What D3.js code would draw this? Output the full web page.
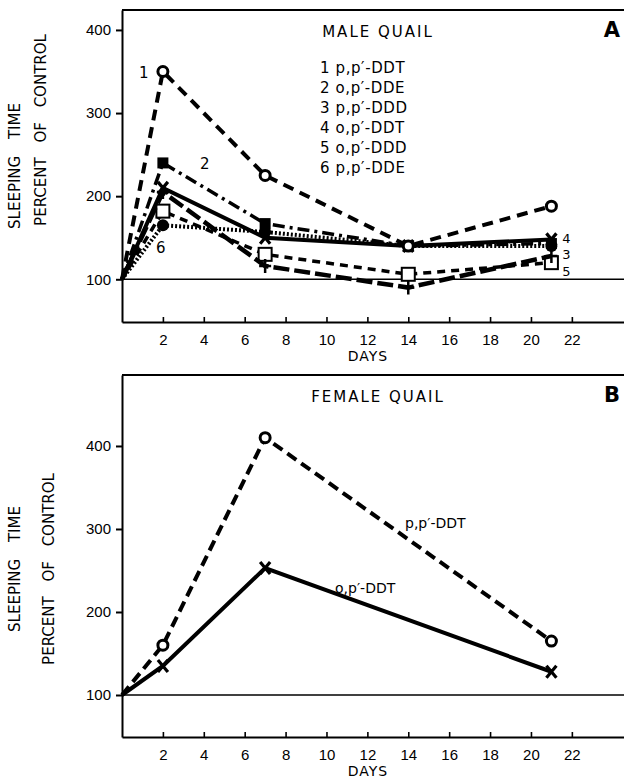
<!DOCTYPE html>
<html>
<head>
<meta charset="utf-8">
<script src="https://cdn.jsdelivr.net/npm/d3@7"></script>
<style>
  body { margin: 0; background: #fff; }
  svg { display: block; font-family: "DejaVu Sans", sans-serif; }
</style>
</head>
<body>
<div id="chart"></div>
<script>
// day values and series
const daysA = [0, 2, 7, 14, 21];
const ppDDT_A = [100, 350, 225, 140, 188];
const opDDE_A = [100, 240, 167, 140, 143];
const ppDDD_A = [100, 205, 116, 90, 128];
const opDDT_A = [100, 210, 150, 140, 148];
const opDDD_A = [100, 182, 130, 106, 120];
const ppDDE_A = [100, 165, 157, 140, 140];

const daysB = [0, 2, 7, 21];
const ppDDT_B = [100, 160, 410, 165];
const opDDT_B = [100, 135, 253, 128];

const dayTicks = [2, 4, 6, 8, 10, 12, 14, 16, 18, 20, 22];
const pctTicks = [100, 200, 300, 400];
const legendA = ["1 p,p′-DDT", "2 o,p′-DDE", "3 p,p′-DDD", "4 o,p′-DDT", "5 o,p′-DDD", "6 p,p′-DDE"];

const width = 624, height = 780;
const svg = d3.select("#chart").append("svg")
  .attr("width", width)
  .attr("height", height);

const x = d3.scaleLinear().domain([0, 24.55]).range([122, 624]);

// draws frame, axes and titles of one panel
const drawPanel = (y, top, bottom, title, letter, percentX, sleepY, percentY) => {
  const g = svg.append("g");
  // top border
  g.append("line")
    .attr("x1", x(0)).attr("x2", width)
    .attr("y1", top).attr("y2", top)
    .attr("stroke", "#000").attr("stroke-width", 2);
  // control line at 100
  g.append("line")
    .attr("x1", x(0)).attr("x2", width)
    .attr("y1", y(100)).attr("y2", y(100))
    .attr("stroke", "#000").attr("stroke-width", 1.6);

  const yAxis = g.append("g")
    .attr("transform", `translate(${x(0)},0)`)
    .call(d3.axisLeft(y).tickValues(pctTicks).tickSize(6).tickSizeOuter(0).tickPadding(5));
  yAxis.select(".domain").attr("stroke-width", 2);
  yAxis.selectAll(".tick line").attr("stroke-width", 2);
  yAxis.selectAll("text").style("font-size", "15px").attr("fill", "#000");

  const xAxis = g.append("g")
    .attr("transform", `translate(0,${bottom})`)
    .call(d3.axisBottom(x).tickValues(dayTicks).tickSize(-5).tickSizeOuter(0).tickPadding(12));
  xAxis.select(".domain").attr("stroke-width", 2);
  xAxis.selectAll(".tick line").attr("stroke-width", 1.6);
  xAxis.selectAll("text").style("font-size", "15px").attr("fill", "#000");

  g.append("text")
    .attr("x", 368).attr("y", bottom + 39)
    .attr("text-anchor", "middle")
    .style("font-size", "14px").style("letter-spacing", "1px")
    .text("DAYS");

  g.append("text")
    .attr("x", 378).attr("y", top + 27)
    .attr("text-anchor", "middle")
    .style("font-size", "15px").style("letter-spacing", "2px")
    .text(title);
  g.append("text")
    .attr("x", 612).attr("y", top + 27)
    .attr("text-anchor", "middle")
    .style("font-size", "21px").style("font-weight", "bold")
    .text(letter);

  g.append("text")
    .attr("transform", `translate(20,${sleepY}) rotate(-90)`)
    .attr("text-anchor", "middle")
    .style("font-size", "15px").attr("word-spacing", "12px")
    .text("SLEEPING TIME");
  g.append("text")
    .attr("transform", `translate(${percentX},${percentY}) rotate(-90)`)
    .attr("text-anchor", "middle")
    .style("font-size", "15px").attr("word-spacing", "10px")
    .text("PERCENT OF CONTROL");
  return g;
};

const drawSeries = (g, y, days, values, lineStyle, marker) => {
  const pts = days.map((d, i) => ({ day: d, value: values[i] }));
  const line = d3.line().x((d) => x(d.day)).y((d) => y(d.value));
  g.append("path")
    .datum(pts)
    .attr("d", line)
    .attr("fill", "none")
    .attr("stroke", "#000")
    .attr("stroke-width", lineStyle.w)
    .attr("stroke-dasharray", lineStyle.dash || null);

  const m = g.selectAll(null)
    .data(pts.slice(1))
    .join("g")
    .attr("transform", (d) => `translate(${x(d.day)},${y(d.value)})`);
  if (marker === "circleOpen") {
    m.append("circle").attr("r", 5).attr("fill", "#fff")
      .attr("stroke", "#000").attr("stroke-width", 3);
  } else if (marker === "circleFilled") {
    m.append("circle").attr("r", 6).attr("fill", "#000");
  } else if (marker === "squareFilled") {
    m.append("rect").attr("x", -5.5).attr("y", -5.5)
      .attr("width", 11).attr("height", 11).attr("fill", "#000");
  } else if (marker === "squareOpen") {
    m.append("rect").attr("x", -6.5).attr("y", -6.5)
      .attr("width", 13).attr("height", 13).attr("fill", "#fff")
      .attr("stroke", "#000").attr("stroke-width", 2);
  } else if (marker === "plus") {
    m.append("path").attr("d", "M-6,0H6M0,-7V7")
      .attr("stroke", "#000").attr("stroke-width", 2.5);
  } else if (marker === "x") {
    m.append("path").attr("d", "M-5,-6L5,6M5,-6L-5,6")
      .attr("stroke", "#000").attr("stroke-width", 3.2);
  }
};

// ---- panel A: male quail
const yA = d3.scaleLinear().domain([48.6, 424]).range([322, 10]);
const gA = drawPanel(yA, 10, 322, "MALE QUAIL", "A", 46, 166, 130);

drawSeries(gA, yA, daysA, ppDDE_A, { w: 4, dash: "2,2" }, "circleFilled");
drawSeries(gA, yA, daysA, opDDD_A, { w: 3.5, dash: "8,6" }, "squareOpen");
drawSeries(gA, yA, daysA, ppDDD_A, { w: 4.5, dash: "16,5" }, "plus");
drawSeries(gA, yA, daysA, opDDT_A, { w: 4 }, "x");
drawSeries(gA, yA, daysA, opDDE_A, { w: 3.5, dash: "12,5,3,5" }, "squareFilled");
drawSeries(gA, yA, daysA, ppDDT_A, { w: 4, dash: "11,7" }, "circleOpen");

gA.selectAll(".legend")
  .data(legendA)
  .join("text")
  .attr("x", 320)
  .attr("y", (d, i) => 73 + i * 20)
  .style("font-size", "15px").style("letter-spacing", "0.6px")
  .text((d) => d);

// series numbers next to the lines
const numLabel = (g, txt, px, py, fs) =>
  g.append("text").attr("x", px).attr("y", py)
    .attr("text-anchor", "middle").style("font-size", fs || "15px").text(txt);
numLabel(gA, "1", x(2) - 19, yA(ppDDT_A[1]) + 6);
numLabel(gA, "2", x(2) + 42, yA(opDDE_A[1]) + 6);
numLabel(gA, "6", x(2) - 2, yA(ppDDE_A[1]) + 28);
numLabel(gA, "4", x(21) + 15, yA(opDDT_A[4]) + 4, "13px");
numLabel(gA, "3", x(21) + 15, yA(ppDDD_A[4]) + 3, "13px");
numLabel(gA, "5", x(21) + 15, yA(opDDD_A[4]) + 13, "13px");

// ---- panel B: female quail
const yB = d3.scaleLinear().domain([49.4, 485.5]).range([737, 375]);
const gB = drawPanel(yB, 375, 737, "FEMALE QUAIL", "B", 54, 569, 569);

drawSeries(gB, yB, daysB, ppDDT_B, { w: 4, dash: "11,6" }, "circleOpen");
drawSeries(gB, yB, daysB, opDDT_B, { w: 4 }, "x");

gB.append("text").attr("x", 405).attr("y", 528)
  .style("font-size", "14px").text("p,p′-DDT");
gB.append("text").attr("x", 335).attr("y", 593)
  .style("font-size", "14px").text("o,p′-DDT");
</script>
</body>
</html>
